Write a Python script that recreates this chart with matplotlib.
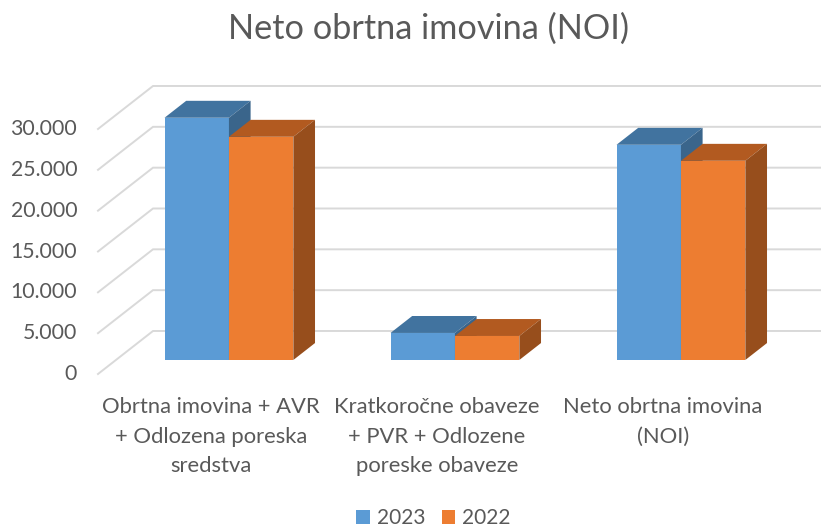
#!/usr/bin/env python3
"""Neto obrtna imovina (NOI) - 3D style clustered columns, 2023 vs 2022."""

import matplotlib
matplotlib.use('Agg')
import matplotlib.pyplot as plt
from matplotlib.transforms import ScaledTranslation
import numpy as np

plt.rcParams['font.family'] = ['Lato', 'DejaVu Sans']

categories = ['Obrtna imovina + AVR\n+ Odlozena poreska\nsredstva',
              'Kratkoročne obaveze\n+ PVR + Odlozene\nporeske obaveze',
              'Neto obrtna imovina\n(NOI)']
values_2023 = [29660, 3310, 26350]
values_2022 = [27330, 2940, 24390]
y_ticks = [0, 5000, 10000, 15000, 20000, 25000, 30000]
y_labels = ['0', '5.000', '10.000', '15.000', '20.000', '25.000', '30.000']

TEXT = '#595959'
GRID = '#D9D9D9'

# fake perspective: how far the back wall is shifted from the front plane (data units)
DX = 55 / 226
DY = 43 * 5000 / 40.83
BAR_W = 0.285
D_FRONT = 0.326
D_BACK = 0.72

W, H = 821, 528
fig = plt.figure(figsize=(W / 100, H / 100), dpi=100)
ax = fig.add_axes([98 / W, 1 - 374 / H, (776 - 98) / W, (374 - 129) / H])
ax.set_xlim(-0.5, 2.5)
ax.set_ylim(0, 30000)
for s in ax.spines.values():
    s.set_visible(False)


def draw_series(left_edges, values, color, top_color, side_color, label):
    x0 = np.array(left_edges) + D_FRONT * DX
    base = D_FRONT * DY
    d = (D_BACK - D_FRONT)
    bars = ax.bar(x0, values, BAR_W, bottom=base, align='edge', color=color,
                  label=label, zorder=3, clip_on=False)
    for x, v in zip(x0, values):
        top = base + v
        ax.fill([x, x + BAR_W, x + BAR_W + d * DX, x + d * DX],
                [top, top, top + d * DY, top + d * DY],
                color=top_color, lw=0, zorder=3, clip_on=False)
        ax.fill([x + BAR_W, x + BAR_W + d * DX, x + BAR_W + d * DX, x + BAR_W],
                [base, base + d * DY, top + d * DY, top],
                color=side_color, lw=0, zorder=3, clip_on=False)
    return bars


# back wall gridlines + diagonals on the left wall
for t in y_ticks:
    ax.plot([-0.5, -0.5 + DX, 2.5 + DX], [t, t + DY, t + DY], color=GRID, lw=1.4,
            zorder=1, clip_on=False, solid_joinstyle='miter')

pos = np.arange(len(categories))
h1 = draw_series(pos - BAR_W, values_2023, '#5B9BD5', '#41739F', '#3A658B', '2023')
h2 = draw_series(pos, values_2022, '#ED7D31', '#B25A20', '#974E1C', '2022')

ax.set_yticks(y_ticks)
ax.set_yticklabels(y_labels, fontsize=15.3, color=TEXT)
ax.set_xticks(pos)
ax.set_xticklabels(categories, fontsize=15.85, color=TEXT, linespacing=1.6)
ax.tick_params(axis='both', length=0)
ax.tick_params(axis='y', pad=15)
ax.tick_params(axis='x', pad=16.5)

# the value labels sit a little above their diagonals
for lab in ax.get_yticklabels():
    lab.set_transform(lab.get_transform() + ScaledTranslation(0, 2 / 100, fig.dpi_scale_trans))

fig.text(428 / W, 1 - 29 / H, 'Neto obrtna imovina (NOI)', ha='center', va='center',
         fontsize=24.7, color=TEXT)

fig.legend(handles=[h1, h2], ncol=2, frameon=False, loc='center',
           bbox_to_anchor=(433.5 / W, 1 - 518 / H), fontsize=15, labelcolor=TEXT,
           handlelength=0.65, handleheight=0.65, handletextpad=0.33, columnspacing=0.8,
           borderpad=0, borderaxespad=0)

fig.savefig('out.png', dpi=100)
